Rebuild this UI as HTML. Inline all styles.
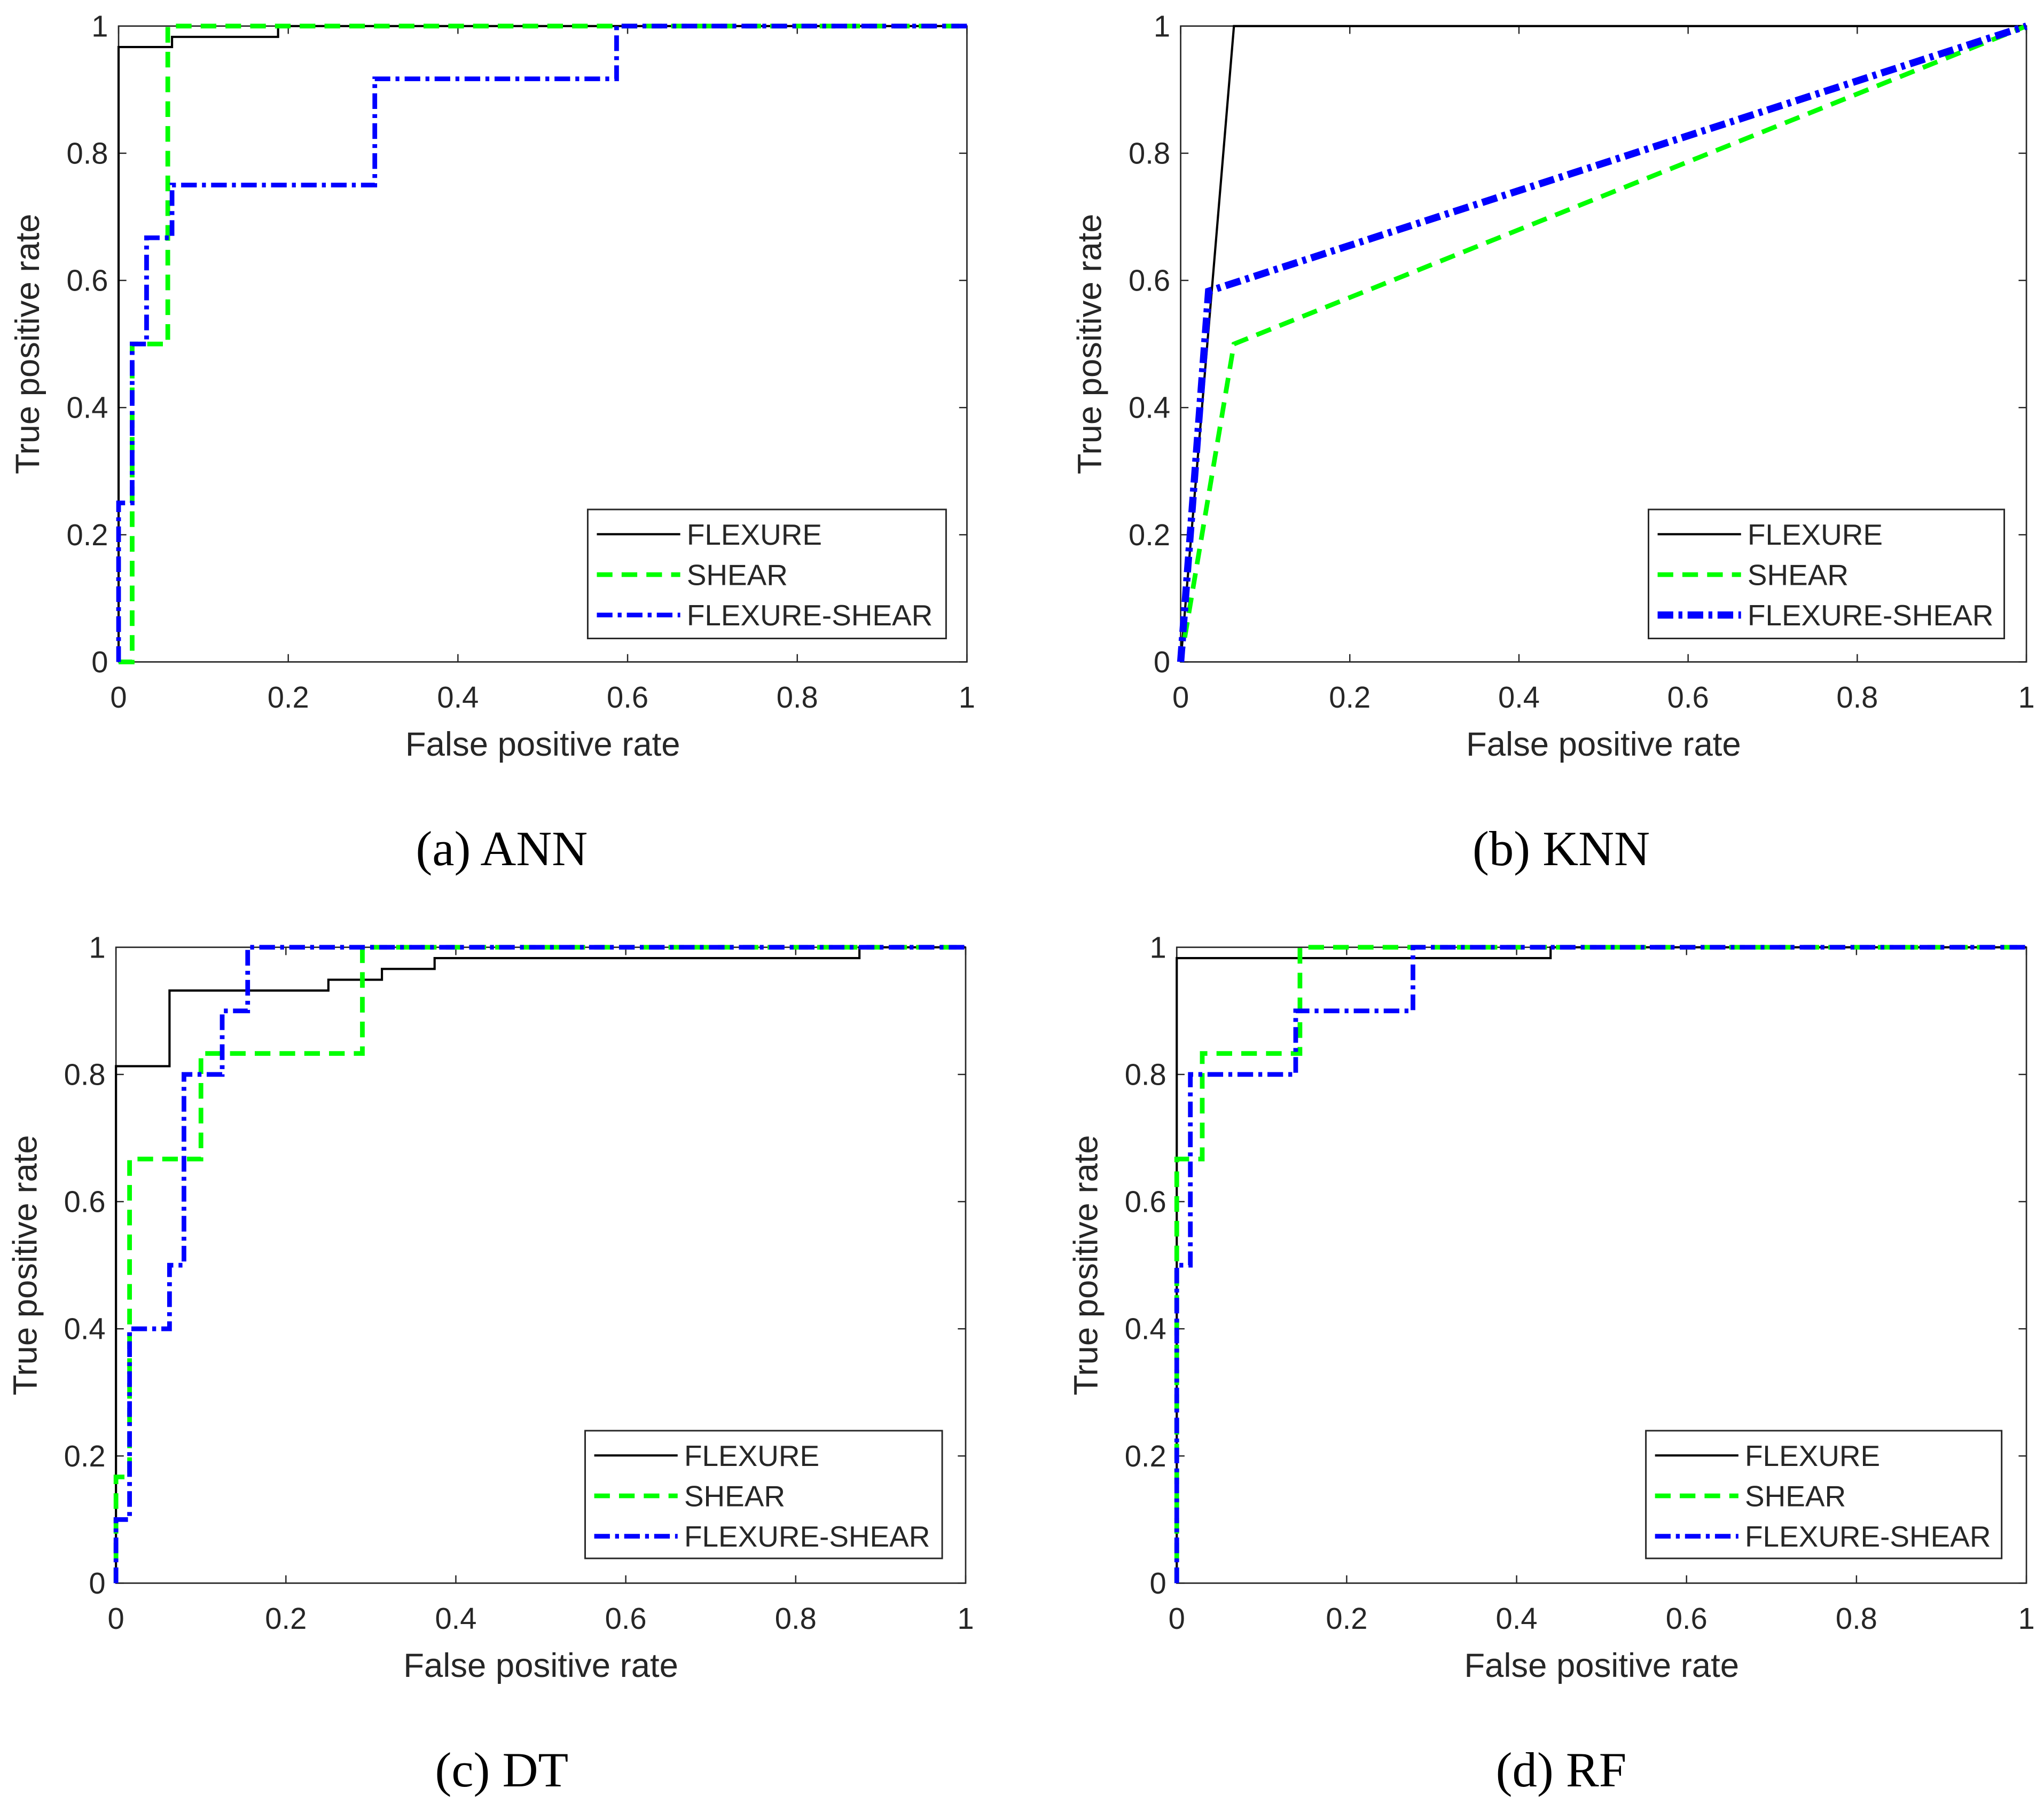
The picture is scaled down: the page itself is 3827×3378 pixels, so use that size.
<!DOCTYPE html>
<html><head><meta charset="utf-8"><style>
html,body{margin:0;padding:0;background:#fff;}
svg{display:block;}
text{font-family:"Liberation Sans",sans-serif;fill:#262626;}
.cap{font-family:"Liberation Serif",serif;fill:#000;}
</style></head><body>
<svg id="fig" width="3827" height="3378" viewBox="0 0 1568.5 1384.5" preserveAspectRatio="none" xmlns="http://www.w3.org/2000/svg"></svg>
<script>
const ticks = [0, 0.2, 0.4, 0.6, 0.8, 1];
const tickLabels = ["0", "0.2", "0.4", "0.6", "0.8", "1"];
const seriesNames = ["FLEXURE", "SHEAR", "FLEXURE-SHEAR"];
const panelCaptions = ["(a) ANN", "(b) KNN", "(c) DT", "(d) RF"];
// ANN
const annFlexX = [0,0,0.063,0.063,0.188,0.188,1];
const annFlexY = [0,0.967,0.967,0.983,0.983,1,1];
const annShearX = [0,0.016,0.016,0.058,0.058,1];
const annShearY = [0,0,0.5,0.5,1,1];
const annFsX = [0,0,0.016,0.016,0.033,0.033,0.063,0.063,0.302,0.302,0.587,0.587,1];
const annFsY = [0,0.25,0.25,0.5,0.5,0.667,0.667,0.75,0.75,0.917,0.917,1,1];
// KNN
const knnFlexX = [0,0.063,1];
const knnFlexY = [0,1,1];
const knnShearX = [0,0.063,1];
const knnShearY = [0,0.5,1];
const knnFsX = [0,0.033,1];
const knnFsY = [0,0.583,1];
// DT
const dtFlexX = [0,0,0.063,0.063,0.25,0.25,0.313,0.313,0.375,0.375,0.875,0.875,1];
const dtFlexY = [0,0.813,0.813,0.932,0.932,0.949,0.949,0.966,0.966,0.983,0.983,1,1];
const dtShearX = [0,0,0.016,0.016,0.1,0.1,0.29,0.29,1];
const dtShearY = [0,0.167,0.167,0.667,0.667,0.833,0.833,1,1];
const dtFsX = [0,0,0.016,0.016,0.063,0.063,0.08,0.08,0.125,0.125,0.155,0.155,1];
const dtFsY = [0,0.1,0.1,0.4,0.4,0.5,0.5,0.8,0.8,0.9,0.9,1,1];
// RF
const rfFlexX = [0,0,0.44,0.44,1];
const rfFlexY = [0,0.983,0.983,1,1];
const rfShearX = [0,0,0.03,0.03,0.145,0.145,1];
const rfShearY = [0,0.667,0.667,0.833,0.833,1,1];
const rfFsX = [0,0,0.016,0.016,0.14,0.14,0.278,0.278,1];
const rfFsY = [0,0.5,0.5,0.8,0.8,0.9,0.9,1,1];

const NS = "http://www.w3.org/2000/svg";
const svg = document.getElementById('fig');
function mk(tag, attrs, parent, txt){
  const e = document.createElementNS(NS, tag);
  for (const k in attrs) e.setAttribute(k, attrs[k]);
  if (txt !== undefined) e.textContent = txt;
  (parent || svg).appendChild(e);
  return e;
}
const panels = [
  {key:'ann', l:91, r:742, t:20, b:508, cx:385, capY:664, leg:[451,391,726,490], series:[[annFlexX,annFlexY],[annShearX,annShearY],[annFsX,annFsY]], fsW:3.6},
  {key:'knn', l:906, r:1555, t:20, b:508, cx:1198, capY:664, leg:[1265,391,1538,490], series:[[knnFlexX,knnFlexY],[knnShearX,knnShearY],[knnFsX,knnFsY]], fsW:5.5},
  {key:'dt', l:89, r:741, t:727, b:1215, cx:385, capY:1371, leg:[449,1098,723,1196], series:[[dtFlexX,dtFlexY],[dtShearX,dtShearY],[dtFsX,dtFsY]], fsW:3.6},
  {key:'rf', l:903, r:1555, t:727, b:1215, cx:1198, capY:1371, leg:[1263,1098,1536,1196], series:[[rfFlexX,rfFlexY],[rfShearX,rfShearY],[rfFsX,rfFsY]], fsW:3.6}
];
const styles = [
  {stroke:'#000', w:1.7, dash:''},
  {stroke:'#00ff00', w:3.6, dash:'12 7'},
  {stroke:'#0000ff', w:3.6, dash:'12 4 3 4'}
];
panels.forEach((p, pi) => {
  const g = mk('g', {});
  
  
  const sx = v => p.l + v * (p.r - p.l);
  const sy = v => p.b - v * (p.b - p.t);
  const box = mk('rect', {x:p.l, y:p.t, width:p.r-p.l, height:p.b-p.t, fill:'#fff', stroke:'#262626', 'stroke-width':1.1}, g);
  
  
  ticks.forEach((t, i) => {
    const x = sx(t), y = sy(t);
    mk('line', {x1:x, y1:p.b, x2:x, y2:p.b-6, stroke:'#262626', 'stroke-width':1}, g);
    mk('line', {x1:x, y1:p.t, x2:x, y2:p.t+6, stroke:'#262626', 'stroke-width':1}, g);
    mk('line', {x1:p.l, y1:y, x2:p.l+6, y2:y, stroke:'#262626', 'stroke-width':1}, g);
    mk('line', {x1:p.r, y1:y, x2:p.r-6, y2:y, stroke:'#262626', 'stroke-width':1}, g);
    const xl = mk('text', {x:x, y:p.b+35, 'font-size':23, 'text-anchor':'middle'}, g, tickLabels[i]);
    
    
    const yl = mk('text', {x:p.l-8, y:y+8, 'font-size':23, 'text-anchor':'end'}, g, tickLabels[i]);
    
    
  });
  const xt = mk('text', {x:(p.l+p.r)/2, y:p.b+72, 'font-size':26, 'text-anchor':'middle'}, g, 'False positive rate');
  
  
  const ycx = p.l - 61, ycy = (p.t+p.b)/2;
  const yt = mk('text', {x:ycx, y:ycy, 'font-size':26, 'text-anchor':'middle', transform:'rotate(-90 '+ycx+' '+ycy+')'}, g, 'True positive rate');
  
  
  p.series.forEach((s, si) => {
    const st = styles[si];
    const pts = s[0].map((v, k) => sx(v).toFixed(2) + ',' + sy(s[1][k]).toFixed(2)).join(' ');
    const w = si === 2 ? p.fsW : st.w;
    const pl = mk('polyline', {points:pts, fill:'none', stroke:st.stroke, 'stroke-width':w, 'stroke-dasharray':st.dash, 'stroke-linejoin':'miter'}, g);
    
    
  });
  const L = p.leg;
  const lg = mk('g', {}, g);
  
  
  mk('rect', {x:L[0], y:L[1], width:L[2]-L[0], height:L[3]-L[1], fill:'#fff', stroke:'#262626', 'stroke-width':1.2}, lg);
  seriesNames.forEach((n, si) => {
    const yy = L[1] + 19 + si * 31;
    const st = styles[si];
    const w = si === 2 ? p.fsW : st.w;
    mk('line', {x1:L[0]+7, y1:yy, x2:L[0]+71, y2:yy, stroke:st.stroke, 'stroke-width':w, 'stroke-dasharray':st.dash}, lg);
    const tx = mk('text', {x:L[0]+76, y:yy+8, 'font-size':22.5, fill:'#000'}, lg, n);
    
    
  });
  const cap = mk('text', {x:p.cx, y:p.capY, 'font-size':38, 'text-anchor':'middle', class:'cap'}, g, panelCaptions[pi]);
  
  
});
</script>
</body></html>
